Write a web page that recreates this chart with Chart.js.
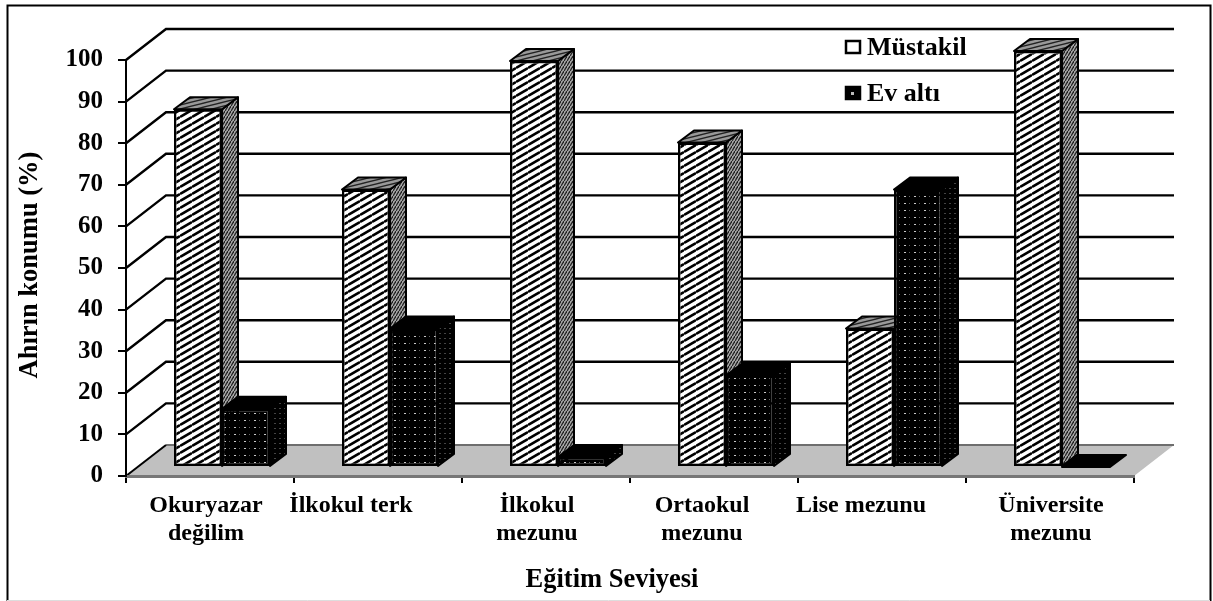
<!DOCTYPE html>
<html lang="tr">
<head>
<meta charset="utf-8">
<title>Ahırın konumu</title>
<script src="https://cdn.jsdelivr.net/npm/chart.js@4"></script>
<style>
  html, body { margin:0; padding:0; background:#fff; overflow:hidden; }
  canvas { display:block; }
</style>
</head>
<body>
<canvas id="chart" width="1213" height="601"></canvas>
<script>
const categories = [["Okuryazar","değilim"],["İlkokul terk"],["İlkokul","mezunu"],["Ortaokul","mezunu"],["Lise mezunu"],["Üniversite","mezunu"]];
const mustakil = [86, 66.7, 97.6, 78, 33.3, 100];
const evAlti = [14, 33.3, 2.4, 22, 66.7, 0];
const yTicks = [0,10,20,30,40,50,60,70,80,90,100];
const xTitle = "Eğitim Seviyesi";
const yTitle = "Ahırın konumu (%)";

const FONT = "'Liberation Serif', 'Times New Roman', serif";
// 3D look: how far the back wall sits behind the axes, where the bars stand, how deep they are
const WALL = { x:40, y:-31 };
const BAR_SHIFT = { x:12, y:-9 };
const BAR_DEPTH = { x:16, y:-12 };
// the category labels in the original are not centred on their bands
const labelNudge = [-4, -27, -9, -12, -21, 1];

function tile(w, h, paint){
  const c = document.createElement("canvas");
  c.width = w; c.height = h;
  paint(c.getContext("2d"), w, h);
  return c.getContext("2d").createPattern(c, "repeat");
}

function stripes(w, h, bg, fg, lw){
  return tile(w, h, (g)=>{
    g.fillStyle = bg; g.fillRect(0,0,w,h);
    g.strokeStyle = fg; g.lineWidth = lw;
    for (const dy of [-h,0,h]) {
      g.beginPath(); g.moveTo(0,h+dy); g.lineTo(w,dy); g.stroke();
    }
  });
}

function dots(w, h, color){
  return tile(w, h, (g)=>{
    g.fillStyle = "#000"; g.fillRect(0,0,w,h);
    g.fillStyle = color;
    g.fillRect(2,2,2,1);
    g.globalAlpha = .5;
    g.fillRect(7,2,1,1);
  });
}

const hatchFront = stripes(12, 7, "#fff", "#000", 2.6);
const hatchSide = stripes(3, 5, "#aaa", "#222", 1.3);
const hatchTop = stripes(16, 4, "#999", "#222", 1.3);
const dotFront = dots(10, 7, "#c8c8c8");
const dotSide = dots(5, 5, "#444");

function poly(ctx, pts){
  ctx.beginPath();
  pts.forEach((p,i)=> i ? ctx.lineTo(p[0],p[1]) : ctx.moveTo(p[0],p[1]));
  ctx.closePath();
}

const scene3d = {
  id:"scene3d",
  beforeDraw(chart){
    const { ctx, scales:{ y }, chartArea:a } = chart;
    ctx.save();

    // outer frame
    ctx.strokeStyle = "#000"; ctx.lineWidth = 2;
    ctx.beginPath();
    ctx.moveTo(7.5,601); ctx.lineTo(7.5,5.5); ctx.lineTo(1210.5,5.5); ctx.lineTo(1210.5,601);
    ctx.stroke();
    ctx.strokeStyle = "#ddd"; ctx.lineWidth = 1;
    ctx.beginPath(); ctx.moveTo(7,600.5); ctx.lineTo(1210,600.5); ctx.stroke();

    // floor
    const y0 = y.getPixelForValue(0);
    poly(ctx, [[a.left,y0],[a.left+WALL.x,y0+WALL.y],[a.right+WALL.x,y0+WALL.y],[a.right,y0]]);
    ctx.fillStyle = "#c0c0c0"; ctx.fill();
    ctx.strokeStyle = "#6e6e6e"; ctx.lineWidth = 2;
    ctx.beginPath(); ctx.moveTo(a.left+WALL.x,y0+WALL.y); ctx.lineTo(a.right+WALL.x,y0+WALL.y); ctx.stroke();
    ctx.strokeStyle = "#000";
    ctx.beginPath(); ctx.moveTo(a.left,y0); ctx.lineTo(a.left+WALL.x,y0+WALL.y); ctx.stroke();

    // grid on side wall and back wall
    ctx.lineWidth = 2.4;
    yTicks.slice(1).forEach((v)=>{
      const py = y.getPixelForValue(v);
      ctx.beginPath();
      ctx.moveTo(a.left,py);
      ctx.lineTo(a.left+WALL.x,py+WALL.y);
      ctx.lineTo(a.right+WALL.x,py+WALL.y);
      ctx.stroke();
    });
    ctx.restore();
  },
  beforeDatasetsDraw(chart){
    const { ctx } = chart;
    ctx.save();
    ctx.translate(BAR_SHIFT.x, BAR_SHIFT.y);
    const looks = [
      { side:hatchSide, top:hatchTop },
      { side:dotSide, top:"#000" }
    ];
    chart.data.datasets.forEach((ds,i)=>{
      chart.getDatasetMeta(i).data.forEach((bar)=>{
        const l = bar.x - bar.width/2, r = bar.x + bar.width/2;
        const dx = BAR_DEPTH.x, dy = BAR_DEPTH.y;
        ctx.strokeStyle = "#000"; ctx.lineWidth = 2; ctx.lineJoin = "round";
        if (bar.base - bar.y > 0) {
          poly(ctx, [[r,bar.y],[r+dx,bar.y+dy],[r+dx,bar.base+dy],[r,bar.base]]);
          ctx.fillStyle = looks[i].side; ctx.fill(); ctx.stroke();
        }
        poly(ctx, [[l,bar.y],[l+dx,bar.y+dy],[r+dx,bar.y+dy],[r,bar.y]]);
        ctx.fillStyle = looks[i].top; ctx.fill(); ctx.stroke();
      });
    });
    // the native bars draw the front faces on the same shifted plane
  },
  afterDatasetsDraw(chart){
    const { ctx, scales:{ x } } = chart;
    ctx.restore();
    ctx.save();
    ctx.fillStyle = "#000";

    // category labels
    ctx.font = "bold 24px " + FONT;
    ctx.textAlign = "center";
    ctx.textBaseline = "alphabetic";
    categories.forEach((lines,i)=>{
      lines.forEach((t,k)=> ctx.fillText(t, x.getPixelForValue(i)+labelNudge[i], 512+k*28));
    });

    // axis titles sit off-centre in the original too
    ctx.font = "bold 26.5px " + FONT;
    ctx.textBaseline = "middle";
    ctx.fillText(xTitle, 612, 580);
    ctx.save();
    ctx.translate(30, 265);
    ctx.rotate(-Math.PI/2);
    ctx.fillText(yTitle, 0, 0);
    ctx.restore();

    // legend
    ctx.textAlign = "left";
    ctx.textBaseline = "alphabetic";
    ctx.font = "bold 26px " + FONT;
    chart.data.datasets.forEach((ds,i)=>{
      const top = 41 + i*46;
      ctx.fillStyle = i ? "#000" : "#fff";
      ctx.fillRect(846,top,14,12);
      ctx.strokeStyle = "#000"; ctx.lineWidth = 2.5;
      ctx.strokeRect(846,top,14,12);
      if (i) { ctx.fillStyle = "#bbb"; ctx.fillRect(851,top+5,3,3); }
      ctx.fillStyle = "#000";
      ctx.fillText(ds.label, 867, top+14);
    });
    ctx.restore();
  }
};

new Chart(document.getElementById("chart"), {
  type:"bar",
  plugins:[scene3d],
  data:{
    labels: categories,
    datasets:[
      { label:"Müstakil", data:mustakil, backgroundColor:hatchFront, borderColor:"#000", borderWidth:2.5, borderSkipped:false, clip:false },
      { label:"Ev altı", data:evAlti, backgroundColor:dotFront, borderColor:"#000", borderWidth:2.5, borderSkipped:false, clip:false }
    ]
  },
  options:{
    responsive:false,
    animation:false,
    layout:{ padding:{ top:60, right:79, left:0, bottom:0 } },
    plugins:{ legend:{ display:false }, tooltip:{ enabled:false } },
    datasets:{ bar:{ barPercentage:1, categoryPercentage:96/168 } },
    scales:{
      x:{
        afterFit:(s)=>{ s.height = 125; },
        ticks:{ display:false },
        grid:{ offset:true, drawOnChartArea:false, drawTicks:true, tickLength:7, color:"#000", lineWidth:2 },
        border:{ color:"#777", width:3 }
      },
      y:{
        min:0, max:100,
        afterFit:(s)=>{ s.width = 126; },
        afterBuildTicks:(s)=>{ s.ticks = yTicks.map((v)=>({ value:v })); },
        ticks:{ color:"#000", font:{ family:FONT, size:25, weight:"bold" }, padding:15 },
        grid:{ drawOnChartArea:false, tickLength:8, color:"#000", lineWidth:2 },
        border:{ color:"#000", width:2 }
      }
    }
  }
});
</script>
</body>
</html>
